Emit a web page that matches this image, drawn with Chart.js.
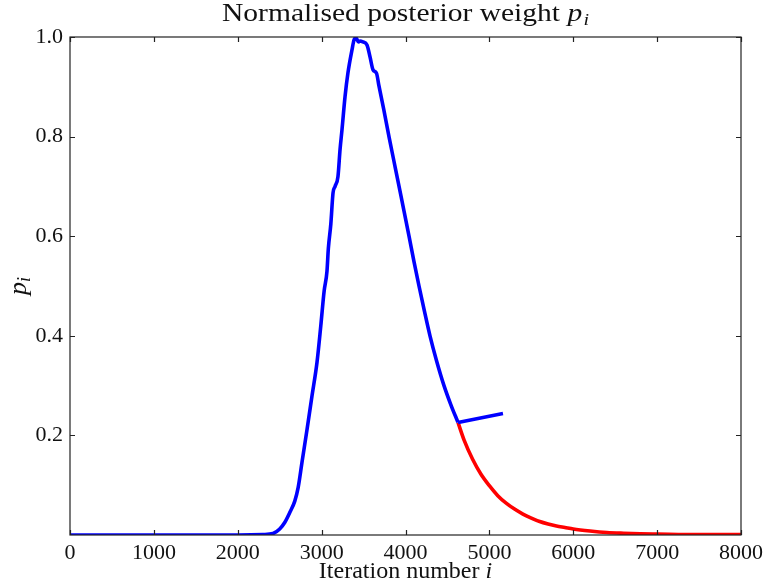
<!DOCTYPE html>
<html>
<head>
<meta charset="utf-8">
<script src="https://cdn.jsdelivr.net/npm/chart.js@4/dist/chart.umd.min.js"></script>
<style>
  html, body { margin: 0; padding: 0; background: #fff; }
  #wrap { width: 763px; height: 587px; position: relative; }
</style>
</head>
<body>
<div id="wrap"><canvas id="chart"></canvas></div>
<script>
// values
const peakIter = [0, 1000, 2000, 2300, 2420, 2500, 2560, 2623, 2680, 2720, 2766, 2826, 2885, 2945, 2990, 3030, 3064, 3080, 3110, 3136, 3160, 3195, 3220, 3243, 3279, 3314, 3362, 3386, 3410, 3440, 3458, 3493, 3541, 3577, 3613, 3655, 3680, 3740, 3803, 3863, 3923, 3983, 4042, 4100, 4161, 4225, 4292, 4370, 4459, 4540, 4626];
const peakWeight = [0, 0, 0, 0.001, 0.003, 0.012, 0.025, 0.046, 0.068, 0.095, 0.146, 0.212, 0.279, 0.347, 0.420, 0.490, 0.530, 0.575, 0.625, 0.687, 0.700, 0.720, 0.775, 0.814, 0.880, 0.928, 0.974, 0.994, 0.998, 0.990, 0.992, 0.990, 0.984, 0.960, 0.934, 0.927, 0.905, 0.855, 0.800, 0.750, 0.700, 0.650, 0.600, 0.550, 0.500, 0.450, 0.400, 0.350, 0.300, 0.262, 0.226];

const branchIter = [4626, 5162];
const branchWeight = [0.226, 0.244];

const tailIter = [4626, 4700, 4800, 4900, 5000, 5100, 5200, 5300, 5400, 5500, 5600, 5700, 5800, 5900, 6000, 6200, 6400, 6600, 6800, 7000, 7500, 8000];
const tailWeight = [0.226, 0.190, 0.152, 0.122, 0.099, 0.079, 0.064, 0.052, 0.042, 0.034, 0.027, 0.022, 0.018, 0.015, 0.012, 0.008, 0.005, 0.0035, 0.0025, 0.002, 0.001, 0.001];

const xTicks = [0, 1000, 2000, 3000, 4000, 5000, 6000, 7000, 8000];
const yTicks = [0.2, 0.4, 0.6, 0.8, 1.0];

const SERIF = "'Liberation Serif', 'DejaVu Serif', serif";

function toPoints(xs, ys) {
  return xs.map((x, i) => ({ x, y: ys[i] }));
}

// frame, inward ticks on all four sides, title and axis labels
const framePlugin = {
  id: "frame",
  afterDraw(chart) {
    const { ctx, chartArea: a, scales } = chart;
    const tl = 5;
    ctx.save();
    ctx.strokeStyle = "#222";
    ctx.lineWidth = 1.2;
    ctx.strokeRect(a.left, a.top, a.right - a.left, a.bottom - a.top);

    ctx.beginPath();
    xTicks.forEach((v) => {
      const px = Math.round(scales.x.getPixelForValue(v)) + 0.5;
      ctx.moveTo(px, a.bottom); ctx.lineTo(px, a.bottom - tl);
      ctx.moveTo(px, a.top); ctx.lineTo(px, a.top + tl);
    });
    yTicks.forEach((v) => {
      const py = Math.round(scales.y.getPixelForValue(v)) + 0.5;
      ctx.moveTo(a.left, py); ctx.lineTo(a.left + tl, py);
      ctx.moveTo(a.right, py); ctx.lineTo(a.right - tl, py);
    });
    ctx.stroke();

    ctx.fillStyle = "#111";
    ctx.textBaseline = "alphabetic";
    ctx.textAlign = "left";

    // title: "Normalised posterior weight p_i"
    const cx = (a.left + a.right) / 2;
    const mainTxt = "Normalised posterior weight ";
    ctx.font = "25px " + SERIF;
    const w1 = ctx.measureText(mainTxt).width;
    ctx.font = "italic 25px " + SERIF;
    const w2 = ctx.measureText("p").width;
    ctx.font = "italic 17px " + SERIF;
    const w3 = ctx.measureText("i").width;
    const total = w1 + w2 + w3 + 1;
    ctx.save();
    ctx.translate(cx, 21);
    ctx.scale(367 / total, 1);
    const x0 = -total / 2;
    ctx.font = "25px " + SERIF;
    ctx.fillText(mainTxt, x0, 0);
    ctx.font = "italic 25px " + SERIF;
    ctx.fillText("p", x0 + w1, 0);
    ctx.font = "italic 17px " + SERIF;
    ctx.fillText("i", x0 + w1 + w2 + 1, 4);
    ctx.restore();

    // x axis label: "Iteration number i"
    ctx.font = "24px " + SERIF;
    const xl = "Iteration number ";
    const xw1 = ctx.measureText(xl).width;
    ctx.font = "italic 24px " + SERIF;
    const xw2 = ctx.measureText("i").width;
    const xs = cx - (xw1 + xw2) / 2;
    ctx.font = "24px " + SERIF;
    ctx.fillText(xl, xs, 578);
    ctx.font = "italic 24px " + SERIF;
    ctx.fillText("i", xs + xw1, 578);

    // y axis label: p_i, rotated
    ctx.save();
    ctx.translate(26, (a.top + a.bottom) / 2);
    ctx.rotate(-Math.PI / 2);
    ctx.font = "italic 26px " + SERIF;
    const pw = ctx.measureText("p").width;
    ctx.font = "italic 18px " + SERIF;
    const iw = ctx.measureText("i").width;
    const ys = -(pw + iw) / 2;
    ctx.font = "italic 26px " + SERIF;
    ctx.fillText("p", ys, 0);
    ctx.font = "italic 18px " + SERIF;
    ctx.fillText("i", ys + pw, 4);
    ctx.restore();

    ctx.restore();
  },
};

new Chart(document.getElementById("chart"), {
  type: "line",
  data: {
    datasets: [
      {
        label: "peak",
        data: toPoints(peakIter, peakWeight),
        borderColor: "#0000ff",
        borderWidth: 3.6,
        pointRadius: 0,
        cubicInterpolationMode: "monotone",
      },
      {
        label: "branch",
        data: toPoints(branchIter, branchWeight),
        borderColor: "#0000ff",
        borderWidth: 3.6,
        pointRadius: 0,
      },
      {
        label: "tail",
        data: toPoints(tailIter, tailWeight),
        borderColor: "#ff0000",
        borderWidth: 3.6,
        pointRadius: 0,
        cubicInterpolationMode: "monotone",
      },
    ],
  },
  options: {
    responsive: true,
    maintainAspectRatio: false,
    animation: false,
    layout: { padding: { top: 37, right: 22, left: 0, bottom: 0 } },
    plugins: {
      legend: { display: false },
      tooltip: { enabled: false },
      title: { display: false },
    },
    scales: {
      x: {
        type: "linear",
        min: 0,
        max: 8000,
        grid: { display: false, drawTicks: false },
        border: { display: false },
        afterFit(scale) {
          scale.height = 52;
          scale.paddingLeft = 0;
          scale.paddingRight = 0;
        },
        afterBuildTicks(scale) { scale.ticks = xTicks.map((v) => ({ value: v })); },
        ticks: {
          padding: 5,
          color: "#111",
          maxRotation: 0,
          font: { family: SERIF, size: 22 },
          callback: (v) => String(v),
        },
      },
      y: {
        type: "linear",
        min: 0,
        max: 1,
        grid: { display: false, drawTicks: false },
        border: { display: false },
        afterFit(scale) {
          scale.width = 70;
          scale.paddingTop = 0;
          scale.paddingBottom = 0;
        },
        afterBuildTicks(scale) { scale.ticks = yTicks.map((v) => ({ value: v })); },
        ticks: {
          padding: 7,
          color: "#111",
          font: { family: SERIF, size: 22 },
          callback: (v) => Number(v).toFixed(1),
        },
      },
    },
  },
  plugins: [framePlugin],
});
</script>
</body>
</html>
